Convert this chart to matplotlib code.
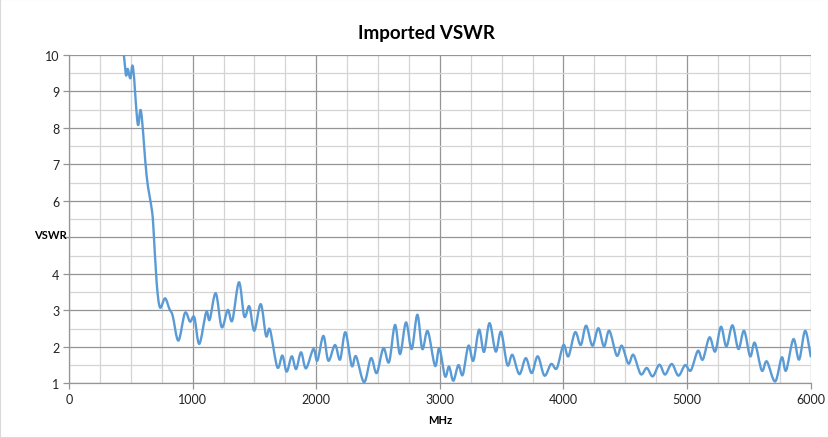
import numpy as np
import matplotlib.pyplot as plt
from matplotlib.path import Path
from matplotlib.patches import PathPatch, Rectangle

# peaks and troughs
freq = [430, 459, 475, 496, 518, 556, 583, 628, 669, 682, 709, 736, 777, 812, 839,
        885, 938, 979, 1014, 1054, 1110, 1138, 1187, 1235, 1284, 1321, 1375, 1418,
        1459, 1499, 1551, 1594, 1626, 1685, 1726, 1761, 1802, 1837, 1877, 1917,
        1977, 2009, 2058, 2098, 2152, 2193, 2236, 2287, 2322, 2387, 2443, 2489,
        2543, 2589, 2637, 2678, 2726, 2772, 2818, 2858, 2902, 2961, 2996, 3042,
        3074, 3109, 3150, 3185, 3231, 3271, 3317, 3357, 3402, 3452, 3495, 3546,
        3587, 3643, 3695, 3743, 3792, 3846, 3900, 3946, 4000, 4040, 4094, 4140,
        4183, 4234, 4282, 4328, 4371, 4431, 4472, 4525, 4566, 4625, 4674, 4722,
        4776, 4822, 4876, 4930, 4984, 5030, 5087, 5127, 5181, 5227, 5274, 5318,
        5367, 5415, 5461, 5510, 5548, 5604, 5645, 5712, 5766, 5801, 5860, 5906,
        5955, 6000]
vswr = [10.6, 9.48, 9.62, 9.36, 9.66, 8.11, 8.45, 6.69, 5.78, 5.32, 3.77, 3.08, 3.33,
        3.04, 2.85, 2.17, 2.93, 2.69, 2.81, 2.08, 2.95, 2.74, 3.47, 2.54, 3.01, 2.72,
        3.77, 2.83, 3.11, 2.44, 3.17, 2.30, 2.47, 1.44, 1.76, 1.32, 1.74, 1.39, 1.85,
        1.41, 1.94, 1.62, 2.30, 1.62, 2.05, 1.65, 2.40, 1.48, 1.74, 1.03, 1.69, 1.28,
        1.96, 1.58, 2.60, 1.80, 2.67, 1.94, 2.88, 1.94, 2.43, 1.48, 1.96, 1.19, 1.46,
        1.07, 1.50, 1.23, 2.03, 1.62, 2.47, 1.86, 2.65, 1.87, 2.41, 1.50, 1.78, 1.25,
        1.69, 1.28, 1.74, 1.21, 1.53, 1.41, 2.05, 1.74, 2.40, 2.05, 2.58, 2.03, 2.51,
        2.01, 2.44, 1.76, 2.03, 1.54, 1.78, 1.25, 1.42, 1.19, 1.51, 1.24, 1.53, 1.21,
        1.50, 1.35, 1.89, 1.65, 2.26, 1.87, 2.55, 2.01, 2.59, 1.94, 2.44, 1.74, 2.11,
        1.35, 1.60, 1.05, 1.71, 1.35, 2.21, 1.65, 2.44, 1.74]

x_ticks = [0, 1000, 2000, 3000, 4000, 5000, 6000]
y_ticks = [1, 2, 3, 4, 5, 6, 7, 8, 9, 10]
# the "5" is hidden under the axis title in the original
y_labels = ['1', '2', '3', '4', '', '6', '7', '8', '9', '10']

plt.rcParams['font.family'] = ['Lato', 'DejaVu Sans']

fig = plt.figure(figsize=(8.29, 4.39), dpi=100)
ax = fig.add_axes([69 / 829, 1 - 384.3 / 439, (810.7 - 69) / 829, (384.3 - 56) / 439])

# smoothed line like Excel (Catmull-Rom as cubic Bezier segments)
P = np.column_stack([freq, vswr])
verts = [P[0]]
codes = [Path.MOVETO]
for i in range(len(P) - 1):
    p0 = P[i - 1] if i > 0 else P[i]
    p3 = P[i + 2] if i + 2 < len(P) else P[i + 1]
    c1 = P[i] + (P[i + 1] - p0) / 6
    c2 = P[i + 1] - (p3 - P[i]) / 6
    verts += [c1, c2, P[i + 1]]
    codes += [Path.CURVE4] * 3
ax.add_patch(PathPatch(Path(verts, codes), fill=False, edgecolor='#5B9BD5', lw=1.7,
                       zorder=3, capstyle='round', joinstyle='round'))

ax.set_xlim(0, 6000)
ax.set_ylim(1, 10)
ax.set_xticks(x_ticks)
ax.set_yticks(y_ticks, y_labels)
ax.set_xticks(np.arange(0, 6001, 250), minor=True)
ax.set_yticks(np.arange(1, 10.01, 0.5), minor=True)
ax.grid(which='major', color='#959595', lw=0.9)
ax.grid(which='minor', color='#d4d4d4', lw=0.9)
ax.set_axisbelow(True)
ax.tick_params(which='minor', length=0)
ax.tick_params(which='major', length=4, width=0.9, color='#959595', labelsize=9,
               labelcolor='#222222', pad=3)
for s in ['top', 'right']:
    ax.spines[s].set_visible(False)
for s in ['left', 'bottom']:
    ax.spines[s].set_color('#959595')
    ax.spines[s].set_linewidth(0.9)

fig.text(427 / 829, 1 - 33 / 439, 'Imported VSWR', ha='center', va='center',
         fontsize=13.5, fontweight='bold')
fig.text(34 / 829, 1 - 236 / 439, 'VSWR', ha='left', va='center', fontsize=8,
         fontweight='bold')
fig.text(440 / 829, 1 - 421 / 439, 'MHz', ha='center', va='center', fontsize=8,
         fontweight='bold')

fig.patches.append(Rectangle((0, 0), 1, 1, transform=fig.transFigure, fill=False,
                             edgecolor='#d9d9d9', lw=1.5))

fig.savefig('out.png', dpi=100)
